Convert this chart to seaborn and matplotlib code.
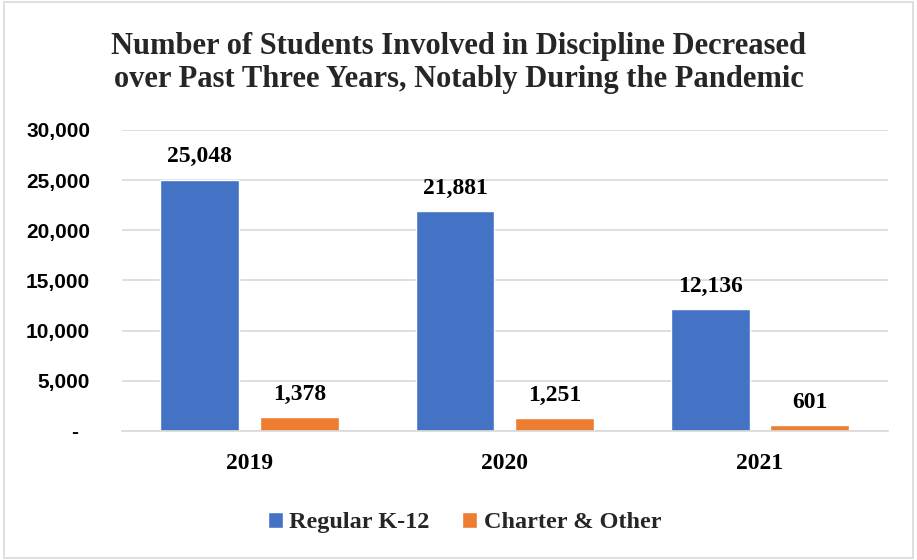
import seaborn as sns
import pandas as pd
import matplotlib.pyplot as plt
from matplotlib.ticker import FuncFormatter, FixedLocator
from matplotlib.patches import Rectangle

years = ['2019', '2020', '2021']
regular_k12 = [25048, 21881, 12136]
charter_other = [1378, 1251, 601]
series_names = ['Regular K-12', 'Charter & Other']
colors = ['#4472C4', '#ED7D31']

df = pd.DataFrame({
    'year': years * 2,
    'students': regular_k12 + charter_other,
    'group': [series_names[0]] * 3 + [series_names[1]] * 3,
})

sns.set_theme(style='white')
serif = 'Liberation Serif'
sans = 'Liberation Sans'

fig = plt.figure(figsize=(9.17, 5.6), dpi=100)
ax = fig.add_axes([0.133, 0.2304, 0.835, 0.5375])

sns.barplot(data=df, x='year', y='students', hue='group', palette=colors,
            width=0.78, gap=0.21, saturation=1, ax=ax)

ax.set_ylim(0, 30000)
ax.set_yticks(range(0, 30001, 5000))
ax.yaxis.set_major_formatter(FuncFormatter(lambda v, p: '-  ' if v == 0 else f'{v:,.0f}'))
ax.grid(axis='y', color='#d9d9d9', linewidth=1.2)
ax.set_axisbelow(True)
for s in ['top', 'right', 'left']:
    ax.spines[s].set_visible(False)
ax.spines['bottom'].set_color('#d9d9d9')
ax.spines['bottom'].set_linewidth(1.2)
ax.set_xlim(-0.5, 2.5)
ax.xaxis.set_minor_locator(FixedLocator([-0.5, 0.5, 1.5, 2.5]))
ax.tick_params(axis='x', which='minor', length=8, color='#d9d9d9', width=1.2)
ax.tick_params(axis='x', which='major', length=0, pad=16)
ax.tick_params(axis='y', length=0, pad=23)
ax.set_xlabel('')
ax.set_ylabel('')

for lab in ax.get_xticklabels():
    lab.set_fontfamily(serif)
    lab.set_fontweight('bold')
    lab.set_fontsize(17)
    lab.set_color('black')
for lab in ax.get_yticklabels():
    lab.set_fontfamily(sans)
    lab.set_fontweight('bold')
    lab.set_fontsize(15)
    lab.set_color('black')

# value labels above each bar
for cont in ax.containers:
    ax.bar_label(cont, labels=[f'{v:,.0f}' for v in cont.datavalues], padding=8.8,
                 fontsize=17, fontweight='bold', family=serif, color='black')

handles, labels = ax.get_legend_handles_labels()
ax.legend(handles, labels, loc='center', bbox_to_anchor=(0.5065, 0.067),
          bbox_transform=fig.transFigure, ncol=2, frameon=False,
          handlelength=0.62, handleheight=0.62, handletextpad=0.25, columnspacing=1.36,
          prop={'family': serif, 'weight': 'bold', 'size': 17.5})

fig.text(0.5, 0.887, 'Number of Students Involved in Discipline Decreased\n'
         'over Past Three Years, Notably During the Pandemic',
         ha='center', va='center', family=serif, fontweight='bold', fontsize=22,
         linespacing=1.2)

fig.patches.append(Rectangle((0.004, 0.003), 0.992, 0.994, transform=fig.transFigure,
                             fill=False, edgecolor='#d9d9d9', linewidth=1.2))

fig.savefig('out.png', dpi=100, facecolor='white')
